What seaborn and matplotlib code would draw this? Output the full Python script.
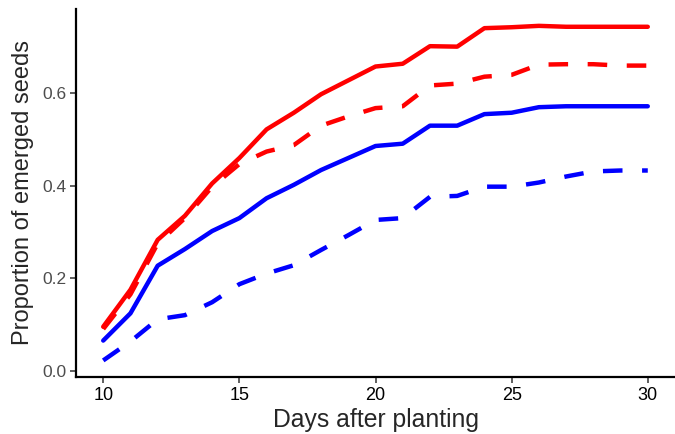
import seaborn as sns
import pandas as pd
import matplotlib.pyplot as plt

days = list(range(10, 31))

red_solid = [0.095, 0.175, 0.283, 0.335, 0.405, 0.460, 0.522, 0.558, 0.598, 0.628, 0.658,
             0.664, 0.702, 0.701, 0.741, 0.743, 0.746, 0.744, 0.744, 0.744, 0.744]
red_dashed = [0.090, 0.165, 0.275, 0.330, 0.398, 0.447, 0.474, 0.488, 0.530, 0.550, 0.568,
              0.572, 0.617, 0.621, 0.636, 0.640, 0.662, 0.663, 0.663, 0.660, 0.660]
blue_solid = [0.065, 0.124, 0.227, 0.263, 0.302, 0.330, 0.373, 0.402, 0.434, 0.460, 0.486,
              0.491, 0.530, 0.530, 0.555, 0.558, 0.570, 0.572, 0.572, 0.572, 0.572]
blue_dashed = [0.022, 0.063, 0.111, 0.120, 0.148, 0.187, 0.210, 0.228, 0.261, 0.293, 0.326,
               0.330, 0.376, 0.378, 0.398, 0.398, 0.407, 0.420, 0.431, 0.433, 0.433]

series = {
    ("red", "solid"): red_solid,
    ("red", "dashed"): red_dashed,
    ("blue", "solid"): blue_solid,
    ("blue", "dashed"): blue_dashed,
}

rows = []
for (grp, ls), vals in series.items():
    for d, v in zip(days, vals):
        rows.append({"day": d, "prop": v, "group": grp, "line": ls})
df = pd.DataFrame(rows)

sns.set_style("ticks")
plt.rcParams['font.family'] = ['Liberation Sans', 'DejaVu Sans']

fig = plt.figure(figsize=(6.75, 4.34), dpi=100)
ax = fig.add_axes([0.1126, 0.1318, 0.8874, 0.8475])

sns.lineplot(data=df, x="day", y="prop", hue="group", style="line",
             palette={"red": "#FF0000", "blue": "#0000FF"},
             dashes={"solid": "", "dashed": (4.4, 4.4)},
             linewidth=3.2, legend=False, ax=ax)

ax.set_xlim(9, 31)
ax.set_ylim(-0.0134, 0.7825)
ax.set_xticks([10, 15, 20, 25, 30])
ax.set_yticks([0.0, 0.2, 0.4, 0.6])
ax.set_yticklabels(["0.0", "0.2", "0.4", "0.6"])
ax.tick_params(axis="x", labelsize=13, colors="#333333", labelcolor="black", length=4, width=1.1, pad=3)
ax.tick_params(axis="y", labelsize=12.5, colors="#333333", labelcolor="#4D4D4D", length=4, width=1.1, pad=3)
ax.set_xlabel("Days after planting", fontsize=17.8, labelpad=3)
ax.set_ylabel("Proportion of emerged seeds", fontsize=17, labelpad=6)
for s in ["left", "bottom"]:
    ax.spines[s].set_linewidth(1.6)
    ax.spines[s].set_color("black")
sns.despine(ax=ax)

fig.savefig("out.png", dpi=100)
